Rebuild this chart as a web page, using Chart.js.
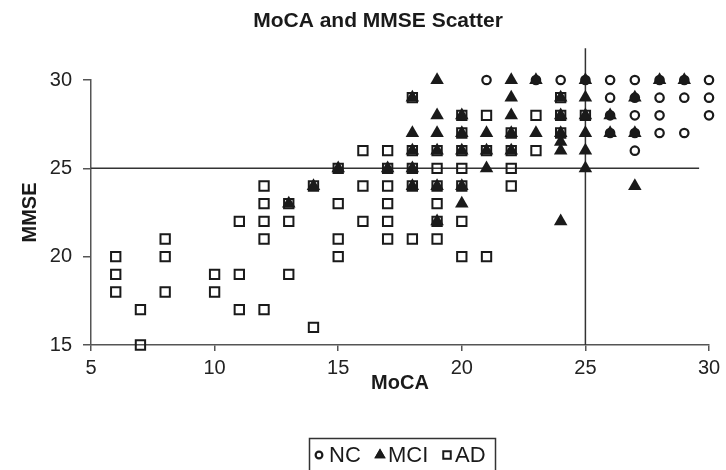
<!DOCTYPE html>
<html>
<head>
<meta charset="utf-8">
<script src="https://cdn.jsdelivr.net/npm/chart.js@4"></script>
<style>
  html, body { margin: 0; padding: 0; background: #fff; }
  #wrap { width: 726px; height: 470px; }
</style>
</head>
<body>
<div id="wrap"><canvas id="chart"></canvas></div>
<script>
const chartTitle = 'MoCA and MMSE Scatter'
const xTitle = 'MoCA'
const yTitle = 'MMSE'
const groupNames = ['NC', 'MCI', 'AD']

// normal controls
const ncMoca = [21, 23, 24, 25, 26, 27, 28, 29, 30, 26, 27, 28, 29, 30, 26, 27, 28, 30, 26, 27, 28, 29, 27]
const ncMmse = [30, 30, 30, 30, 30, 30, 30, 30, 30, 29, 29, 29, 29, 29, 28, 28, 28, 28, 27, 27, 27, 27, 26]

// mild cognitive impairment
const mciMoca = [13, 14, 15, 17, 18, 18, 18, 18, 18, 19, 19, 19, 19, 19, 19, 20, 20, 20, 20, 20, 21, 21, 21,
  22, 22, 22, 22, 22, 23, 23, 24, 24, 24, 24, 24, 24, 25, 25, 25, 25, 25, 25, 26, 26, 27, 27, 27, 28, 29]
const mciMmse = [23, 24, 25, 25, 29, 27, 26, 25, 24, 30, 28, 27, 26, 24, 22, 28, 27, 26, 24, 23, 27, 26, 25,
  30, 29, 28, 27, 26, 30, 27, 29, 28, 27, 26.5, 26, 22, 30, 29, 28, 27, 26, 25, 28, 27, 29, 27, 24, 30, 30]

// alzheimer's disease
const adMoca = [6, 6, 6, 7, 7, 8, 8, 8, 10, 10, 11, 11, 11, 12, 12, 12, 12, 12, 13, 13, 13, 14, 14,
  15, 15, 15, 15, 16, 16, 16, 17, 17, 17, 17, 17, 17, 18, 18, 18, 18, 18, 19, 19, 19, 19, 19, 19,
  20, 20, 20, 20, 20, 20, 20, 21, 21, 21, 22, 22, 22, 22, 23, 23, 24, 24, 24, 25]
const adMmse = [20, 19, 18, 17, 15, 21, 20, 18, 19, 18, 22, 19, 17, 24, 23, 22, 21, 17, 23, 22, 19, 24, 16,
  25, 23, 21, 20, 26, 24, 22, 26, 25, 24, 23, 22, 21, 29, 26, 25, 24, 21, 26, 25, 24, 23, 22, 21,
  28, 27, 26, 25, 24, 22, 20, 28, 26, 20, 27, 26, 25, 24, 28, 26, 29, 28, 27, 28]

// cut-off lines
const mmseCutoff = 25
const mocaCutoff = 25
const mmseLineX = [5, 29.6]
const mocaLineY = [15, 31.8]

const xTicks = [5, 10, 15, 20, 25, 30]
const yTicks = [15, 20, 25, 30]

const toPoints = (xs, ys) => xs.map((x, i) => ({ x: x, y: ys[i] }))

const ink = '#1a1a1a'
const axisGray = '#555'
const fontFam = '"Liberation Sans", Arial, Helvetica, sans-serif'

const markers = [
  { pointStyle: 'circle', pointRadius: 4.2, pointBorderWidth: 2.2, pointBackgroundColor: 'rgba(0,0,0,0)' },
  { pointStyle: 'triangle', pointRadius: 7.8, pointBorderWidth: 0, pointBackgroundColor: ink },
  { pointStyle: 'rect', pointRadius: 6.6, pointBorderWidth: 2, pointBackgroundColor: 'rgba(0,0,0,0)' },
]

// title and boxed legend
const frame = {
  id: 'frame',
  afterDraw(chart) {
    const ctx = chart.ctx
    ctx.save()
    ctx.fillStyle = ink
    ctx.textBaseline = 'middle'
    ctx.textAlign = 'center'
    ctx.font = 'bold 21px ' + fontFam
    ctx.fillText(chartTitle, 378, 21)

    ctx.strokeStyle = '#333'
    ctx.lineWidth = 1.5
    ctx.strokeRect(309.5, 438.5, 186, 40)

    ctx.font = '22px ' + fontFam
    ctx.textAlign = 'left'
    const markX = [319, 380, 447]
    const textX = [329, 388, 455]
    groupNames.forEach((name, i) => {
      const m = markers[i]
      ctx.strokeStyle = ink
      ctx.fillStyle = m.pointBackgroundColor
      ctx.lineWidth = m.pointBorderWidth
      Chart.helpers.drawPoint(ctx, {
        pointStyle: m.pointStyle,
        radius: m.pointStyle === 'triangle' ? 6.5 : m.pointRadius * 0.8,
        rotation: 0,
        borderWidth: m.pointBorderWidth,
      }, markX[i], 455)
      if (m.pointBorderWidth === 0) ctx.fill()
      ctx.fillStyle = ink
      ctx.fillText(name, textX[i], 456)
    })
    ctx.restore()
  },
}

const groupData = [toPoints(ncMoca, ncMmse), toPoints(mciMoca, mciMmse), toPoints(adMoca, adMmse)]

const datasets = groupNames.map((name, i) => ({
  label: name,
  data: groupData[i],
  borderColor: ink,
  backgroundColor: markers[i].pointBackgroundColor,
  ...markers[i],
  order: i === 1 ? 0 : i + 1,
  clip: false,
}))

datasets.push({
  label: 'mmse cut',
  data: mmseLineX.map(x => ({ x: x, y: mmseCutoff })),
  showLine: true,
  borderColor: '#333',
  borderWidth: 1.5,
  pointRadius: 0,
  order: 5,
  clip: false,
})
datasets.push({
  label: 'moca cut',
  data: mocaLineY.map(y => ({ x: mocaCutoff, y: y })),
  showLine: true,
  borderColor: '#333',
  borderWidth: 1.5,
  pointRadius: 0,
  order: 5,
  clip: false,
})

new Chart(document.getElementById('chart'), {
  type: 'scatter',
  data: { datasets: datasets },
  options: {
    responsive: true,
    maintainAspectRatio: false,
    animation: false,
    layout: { padding: { top: 80, right: 17, bottom: 75, left: 0 } },
    plugins: {
      legend: { display: false },
      tooltip: { enabled: false },
      title: { display: false },
    },
    scales: {
      x: {
        type: 'linear',
        min: 5,
        max: 30,
        afterFit: scale => { scale.height = 50 },
        afterBuildTicks: scale => { scale.ticks = xTicks.map(v => ({ value: v })) },
        border: { color: axisGray, width: 1.5 },
        grid: { drawOnChartArea: false, drawTicks: true, tickLength: 6, color: axisGray, lineWidth: 1.5 },
        ticks: { color: '#222', font: { size: 20, family: fontFam }, padding: 5, maxRotation: 0 },
        title: { display: true, text: xTitle, color: ink, font: { size: 20, weight: 'bold', family: fontFam }, padding: { top: 0, bottom: 0 } },
      },
      y: {
        type: 'linear',
        min: 15,
        max: 30,
        afterFit: scale => { scale.width = 91 },
        afterBuildTicks: scale => { scale.ticks = yTicks.map(v => ({ value: v })) },
        border: { color: axisGray, width: 1.5 },
        grid: { drawOnChartArea: false, drawTicks: true, tickLength: 8, color: axisGray, lineWidth: 1.5 },
        ticks: { color: '#222', font: { size: 20, family: fontFam }, padding: 11 },
        title: { display: true, text: yTitle, color: ink, font: { size: 20, weight: 'bold', family: fontFam }, padding: { top: 18, bottom: 0 } },
      },
    },
  },
  plugins: [frame],
})
</script>
</body>
</html>
